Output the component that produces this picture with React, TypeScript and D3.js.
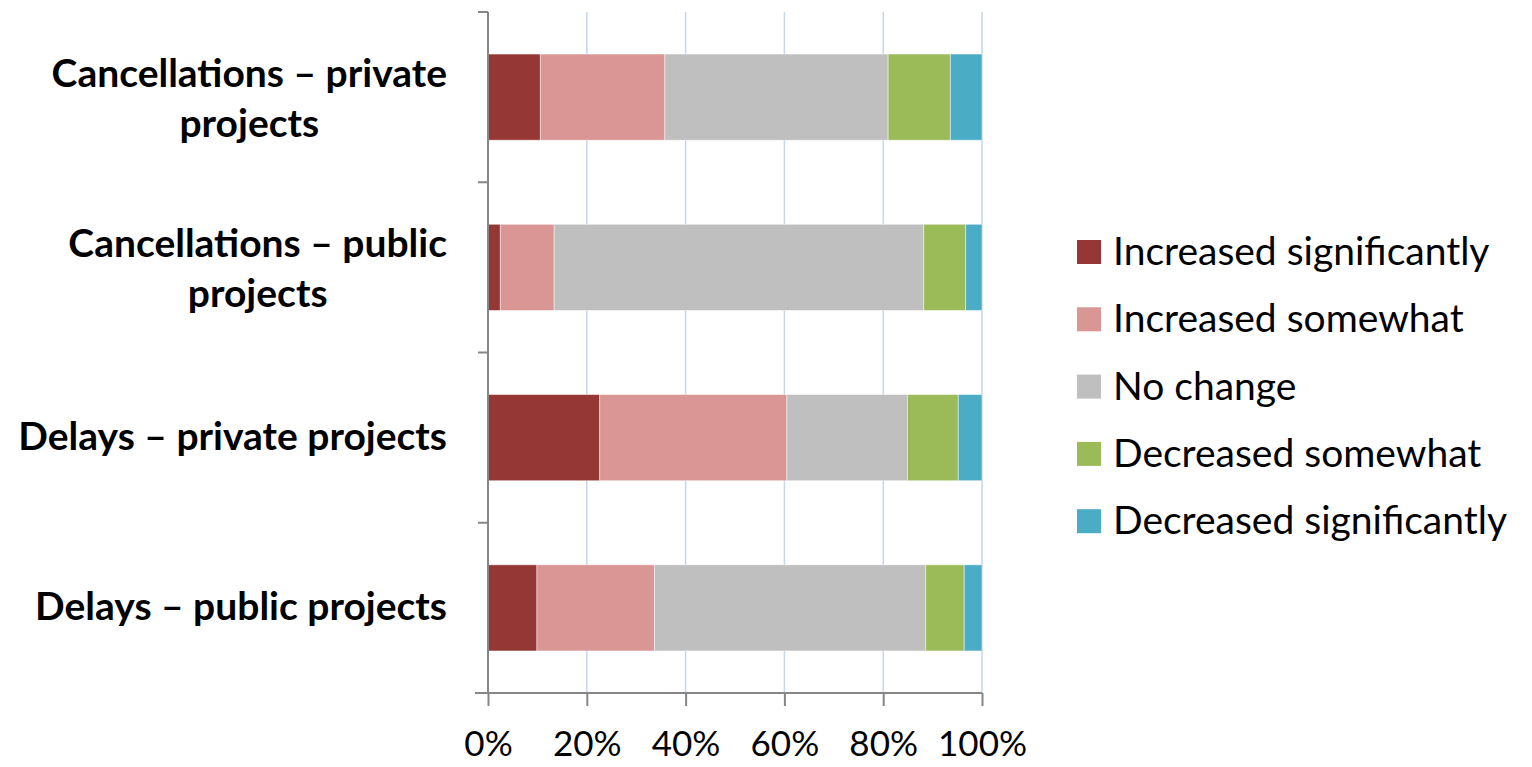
import React, { useRef, useEffect } from 'react'
import * as d3 from 'd3'

// category labels, split into the lines shown on the chart
const categories = [
  'Cancellations – private projects',
  'Cancellations – public projects',
  'Delays – private projects',
  'Delays – public projects',
]
const categoryLines = [
  ['Cancellations – private', 'projects'],
  ['Cancellations – public', 'projects'],
  ['Delays – private projects'],
  ['Delays – public projects'],
]

const seriesNames = [
  'Increased significantly',
  'Increased somewhat',
  'No change',
  'Decreased somewhat',
  'Decreased significantly',
]
const seriesColors = ['#953735', '#D99694', '#BFBFBF', '#9BBB59', '#4BACC6']

// percent of respondents, one array per series, in category order
const increasedSignificantly = [10.6, 2.5, 22.6, 9.9]
const increasedSomewhat = [25.2, 10.9, 37.9, 23.8]
const noChange = [45.2, 74.8, 24.4, 54.9]
const decreasedSomewhat = [12.6, 8.5, 10.3, 7.8]
const decreasedSignificantly = [6.4, 3.3, 4.8, 3.6]

const xTicks = [0, 20, 40, 60, 80, 100]

const FONT = 'Lato, "Open Sans", sans-serif'

const App = () => {
  const svgRef = useRef<SVGSVGElement>(null)

  useEffect(() => {
    const svg = d3.select(svgRef.current)
    svg.selectAll('*').remove()

    const left = 488, right = 982, top = 12, bottom = 693

    const rows = categories.map((c, i) => {
      const vals = [
        increasedSignificantly[i],
        increasedSomewhat[i],
        noChange[i],
        decreasedSomewhat[i],
        decreasedSignificantly[i],
      ]
      const total = d3.sum(vals)
      let acc = 0
      return {
        cat: c,
        segs: vals.map((v, k) => {
          const x0 = (acc / total) * 100
          acc += v
          return { k, x0, x1: (acc / total) * 100 }
        }),
      }
    })

    const x = d3.scaleLinear().domain([0, 100]).range([left, right])
    const y = d3.scaleBand()
      .domain(categories)
      .range([top, bottom])
      .paddingInner(0.494)
      .paddingOuter(0.247)

    // gridlines
    svg.append('g')
      .selectAll('line')
      .data(xTicks.slice(1))
      .enter().append('line')
      .attr('x1', d => x(d)).attr('x2', d => x(d))
      .attr('y1', top).attr('y2', bottom)
      .attr('stroke', '#C6D6EC')
      .attr('stroke-width', 1.5)

    // bars
    const g = svg.append('g')
    rows.forEach(r => {
      g.selectAll(null)
        .data(r.segs)
        .enter().append('rect')
        .attr('x', d => x(d.x0))
        .attr('y', y(r.cat)!)
        .attr('width', d => x(d.x1) - x(d.x0))
        .attr('height', y.bandwidth())
        .attr('fill', d => seriesColors[d.k])
        .attr('stroke', 'rgba(255,255,255,0.45)')
        .attr('stroke-width', 1)
    })

    // y axis line + ticks at band boundaries
    const step = y.step()
    const yTickPos = d3.range(categories.length + 1).map(i => top + i * step)
    svg.append('line')
      .attr('x1', left).attr('x2', left)
      .attr('y1', top).attr('y2', bottom)
      .attr('stroke', '#868686').attr('stroke-width', 2)
    svg.append('g')
      .selectAll('line')
      .data(yTickPos)
      .enter().append('line')
      .attr('x1', left - 10).attr('x2', left)
      .attr('y1', d => d).attr('y2', d => d)
      .attr('stroke', '#868686').attr('stroke-width', 2)

    // x axis
    const xAxis = svg.append('g')
      .attr('transform', `translate(0,${bottom})`)
      .call(d3.axisBottom(x).tickValues(xTicks).tickFormat(d => `${d}%`).tickSize(13).tickPadding(25))
    xAxis.select('.domain')
      .attr('d', `M${left - 13},0H${right}`)
      .attr('stroke', '#868686').attr('stroke-width', 2)
    xAxis.selectAll('.tick line').attr('stroke', '#868686').attr('stroke-width', 2)
    xAxis.selectAll('.tick text')
      .attr('font-family', FONT)
      .attr('font-size', 35)
      .attr('fill', '#000')
    xAxis.attr('font-family', null).attr('font-size', null)

    // category labels: block right-aligned, lines centred inside the block
    const labelRight = 447
    const lineH = 50
    categoryLines.forEach((lines, i) => {
      const cy = y(categories[i])! + y.bandwidth() / 2
      const off = 12 + (lines.length - 1) * 3
      const t = svg.append('text')
        .attr('font-family', FONT)
        .attr('font-size', 39)
        .attr('font-weight', 'bold')
        .attr('text-anchor', 'middle')
        .attr('fill', '#000')
      const spans = lines.map((ln, j) =>
        t.append('tspan')
          .attr('y', cy + (j - (lines.length - 1) / 2) * lineH + off)
          .text(ln))
      const widths = spans.map(s => (s.node() as SVGTSpanElement).getComputedTextLength())
      const maxW = d3.max(widths) || 0
      spans.forEach(s => s.attr('x', labelRight - maxW / 2))
    })

    // legend
    const legend = svg.append('g').attr('transform', 'translate(1077,252)')
    const items = legend.selectAll('g')
      .data(seriesNames)
      .enter().append('g')
      .attr('transform', (d, i) => `translate(0,${i * 67.3})`)
    items.append('rect')
      .attr('x', 0).attr('y', -12)
      .attr('width', 24).attr('height', 24)
      .attr('fill', (d, i) => seriesColors[i])
    items.append('text')
      .attr('x', 36).attr('y', 13)
      .attr('font-family', FONT)
      .attr('font-size', 39)
      .attr('fill', '#000')
      .text(d => d)
  }, [])

  return (
    <div>
      <svg ref={svgRef} width={1524} height={767} style={{ display: 'block', margin: '-8px 0 0 -8px' }}></svg>
    </div>
  )
}

export default App
